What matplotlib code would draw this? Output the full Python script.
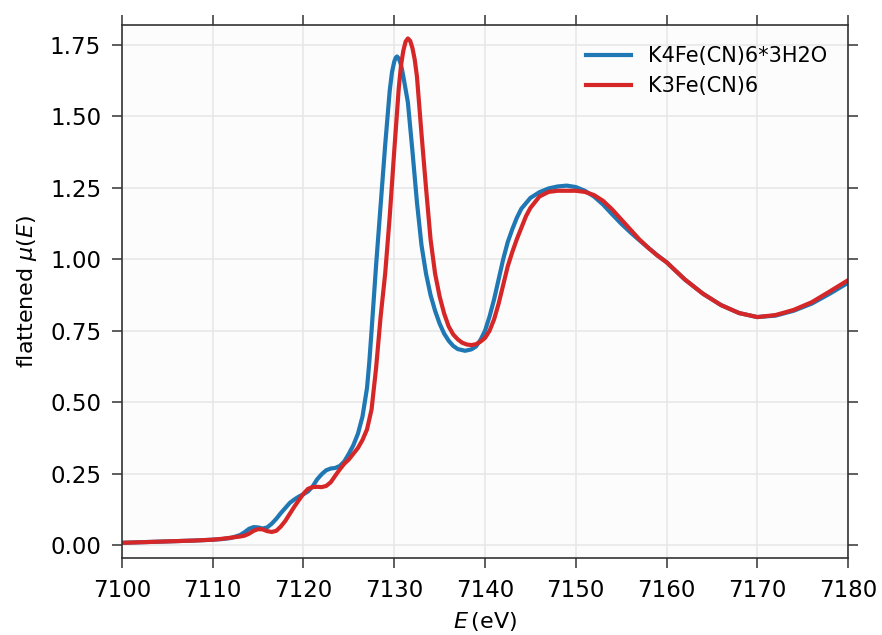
import matplotlib
matplotlib.use("Agg")
import matplotlib.pyplot as plt

# K4Fe(CN)6*3H2O
e_k4 = [7100, 7102, 7104, 7106, 7108, 7110, 7111, 7112, 7113, 7113.5,
        7114, 7114.5, 7115, 7115.5, 7116, 7116.5, 7117, 7117.5, 7118, 7118.5,
        7119, 7119.5, 7120, 7120.5, 7121, 7121.5, 7122, 7122.5, 7123, 7123.5,
        7124, 7124.5, 7125, 7125.5, 7126, 7126.5, 7127, 7127.25, 7127.5, 7128,
        7128.5, 7129, 7129.5, 7129.75, 7130, 7130.15, 7130.3, 7130.5, 7130.7, 7130.85,
        7131, 7131.5, 7132, 7132.5, 7133, 7133.5, 7134, 7134.5, 7135, 7135.5,
        7136, 7136.5, 7137, 7137.8, 7138.5, 7139, 7139.5, 7140, 7140.5, 7141,
        7141.5, 7142, 7142.5, 7143, 7143.5, 7144, 7145, 7146, 7147, 7148,
        7149, 7150, 7151, 7152, 7153, 7154, 7155, 7156, 7157, 7158,
        7159, 7160, 7162, 7164, 7166, 7168, 7170, 7172, 7174, 7176,
        7178, 7180]
mu_k4 = [0.008, 0.010, 0.012, 0.014, 0.016, 0.019, 0.021, 0.025, 0.035, 0.045,
         0.057, 0.063, 0.062, 0.058, 0.062, 0.075, 0.092, 0.112, 0.130, 0.148,
         0.160, 0.170, 0.178, 0.188, 0.205, 0.230, 0.248, 0.262, 0.268, 0.270,
         0.277, 0.293, 0.320, 0.350, 0.390, 0.450, 0.550, 0.640, 0.750, 0.980,
         1.190, 1.400, 1.590, 1.655, 1.692, 1.705, 1.710, 1.703, 1.685, 1.665,
         1.640, 1.550, 1.380, 1.200, 1.050, 0.950, 0.875, 0.820, 0.775, 0.740,
         0.715, 0.697, 0.686, 0.680, 0.685, 0.695, 0.718, 0.750, 0.800, 0.860,
         0.930, 1.000, 1.060, 1.105, 1.145, 1.177, 1.215, 1.235, 1.248, 1.255,
         1.258, 1.253, 1.240, 1.220, 1.192, 1.158, 1.125, 1.095, 1.067, 1.040,
         1.014, 0.990, 0.930, 0.880, 0.840, 0.812, 0.798, 0.803, 0.820, 0.845,
         0.880, 0.918]

# K3Fe(CN)6
e_k3 = [7100, 7102, 7104, 7106, 7108, 7110, 7111, 7112, 7113, 7113.5,
        7114, 7114.5, 7115, 7115.5, 7116, 7116.5, 7117, 7117.5, 7118, 7118.5,
        7119, 7119.5, 7120, 7120.5, 7121, 7121.5, 7122, 7122.5, 7123, 7123.5,
        7124, 7124.5, 7125, 7125.5, 7126, 7126.5, 7127, 7127.5, 7128, 7128.5,
        7129, 7129.5, 7130, 7130.5, 7130.75, 7131, 7131.25, 7131.5, 7131.75, 7132,
        7132.25, 7132.5, 7133, 7133.5, 7134, 7134.5, 7135, 7135.5, 7136, 7136.5,
        7137, 7137.5, 7138, 7138.5, 7139, 7139.5, 7140, 7140.5, 7141, 7141.5,
        7142, 7142.5, 7143, 7143.5, 7144, 7144.5, 7145, 7146, 7147, 7148,
        7149, 7150, 7151, 7152, 7153, 7154, 7155, 7156, 7157, 7158,
        7159, 7160, 7162, 7164, 7166, 7168, 7170, 7172, 7174, 7176,
        7178, 7180]
mu_k3 = [0.008, 0.010, 0.012, 0.014, 0.016, 0.019, 0.022, 0.026, 0.030, 0.033,
         0.040, 0.050, 0.056, 0.055, 0.049, 0.046, 0.050, 0.065, 0.085, 0.110,
         0.135, 0.158, 0.180, 0.197, 0.203, 0.204, 0.203, 0.207, 0.220, 0.243,
         0.265, 0.285, 0.300, 0.320, 0.340, 0.368, 0.405, 0.475, 0.620, 0.800,
         0.950, 1.150, 1.380, 1.600, 1.680, 1.730, 1.762, 1.773, 1.765, 1.740,
         1.700, 1.640, 1.440, 1.250, 1.070, 0.950, 0.870, 0.810, 0.765, 0.737,
         0.720, 0.708, 0.702, 0.700, 0.703, 0.712, 0.725, 0.750, 0.790, 0.845,
         0.910, 0.975, 1.025, 1.070, 1.110, 1.150, 1.180, 1.220, 1.236, 1.240,
         1.240, 1.240, 1.236, 1.225, 1.205, 1.175, 1.140, 1.105, 1.070, 1.040,
         1.013, 0.990, 0.930, 0.880, 0.840, 0.812, 0.798, 0.805, 0.823, 0.850,
         0.888, 0.927]

x_ticks = [7100, 7110, 7120, 7130, 7140, 7150, 7160, 7170, 7180]
y_ticks = [0.00, 0.25, 0.50, 0.75, 1.00, 1.25, 1.50, 1.75]

fig = plt.figure(figsize=(8.82, 6.35), dpi=100)
ax = fig.add_axes([0.1383, 0.1213, 0.8232, 0.8393])
ax.set_facecolor("#fcfcfc")

ax.plot(e_k4, mu_k4, color="#1f77b4", lw=3.0, label="K4Fe(CN)6*3H2O")
ax.plot(e_k3, mu_k3, color="#d62728", lw=3.0, label="K3Fe(CN)6")

ax.set_xlim(7100, 7180)
ax.set_ylim(-0.045, 1.82)
ax.set_xticks(x_ticks)
ax.set_yticks(y_ticks)
ax.set_yticklabels([f"{v:.2f}" for v in y_ticks])

ax.grid(True, color="#e6e6e6", lw=1.1)
ax.set_axisbelow(True)

for side in ax.spines.values():
    side.set_color("#333333")
    side.set_linewidth(1.2)

ax.tick_params(direction="out", length=7, width=1.1, color="#333333",
               labelsize=16.5, top=True, right=True, pad=8)

ax.set_xlabel(r"$E\,$(eV)", fontsize=16, labelpad=6)
ax.set_ylabel(r"flattened $\mu(E)$", fontsize=16, labelpad=8)

ax.legend(loc="upper right", frameon=False, fontsize=15,
          handlelength=2.2, borderaxespad=0.6, labelspacing=0.5)

fig.savefig("out.png", dpi=100)
